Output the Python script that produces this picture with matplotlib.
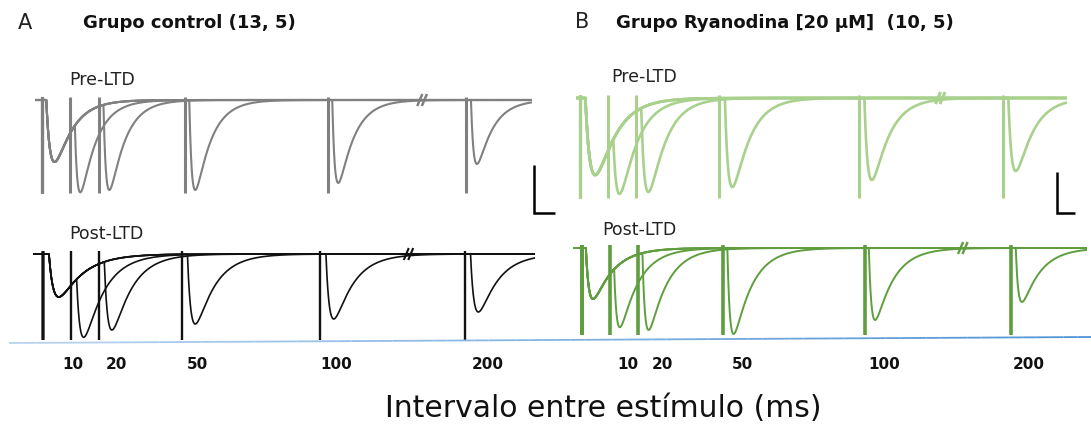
import numpy as np
import matplotlib
matplotlib.use("Agg")
import matplotlib.pyplot as plt
from matplotlib import transforms
from matplotlib.collections import LineCollection

plt.rcParams['font.family'] = ['DejaVu Sans']

W, H = 1091, 425

# ---------------- data ----------------
intervals_ms = [10, 20, 50, 100, 200]
tick_labels = ["10", "20", "50", "100", "200"]

# peak depth (baseline to peak, arbitrary units) of 1st response and of 2nd response per interval
ctrl_pre_first = 62
ctrl_pre_second = [92, 90, 90, 83, 64]
ctrl_post_first = 43
ctrl_post_second = [83, 76, 70, 65, 58]
rya_pre_first = 77
rya_pre_second = [95, 94, 89, 82, 73]
rya_post_first = 51
rya_post_second = [79, 82, 86, 72, 54]

# stimulus artifact depth
ctrl_pre_artifact = 93
ctrl_post_artifact = 86
rya_pre_artifact = 100
rya_post_artifact = 87

# kinetics: latency, rise tau, decay tau (ms) — first response / second response
ctrl_pre_kin1 = (1.6, 1.6, 6.0)
ctrl_pre_kin2 = (1.6, 1.0, 5.5)
ctrl_post_kin1 = (2.0, 1.8, 8.5)
ctrl_post_kin2 = (2.0, 1.4, 7.0)
rya_pre_kin1 = (2.0, 2.0, 7.0)
rya_pre_kin2 = (2.0, 1.4, 6.0)
rya_post_kin1 = (1.5, 1.2, 7.0)
rya_post_kin2 = (1.5, 1.0, 6.5)

# scale bars (amplitude units, ms)
ctrl_bar = (48, 7.3)
rya_bar = (41, 6.6)

# ---------------- layout ----------------
# stim0 px, px per ms, start ms, end ms, break ms, gap ms, baseline px
lay = {
    'ctrl_pre':  dict(s0=41.7, k=2.86, start=-2.3, end=171.4, brk=133.0, gap=51.5, base=100),
    'ctrl_post': dict(s0=43.4, k=2.77, start=-3.7, end=177.6, brk=131.8, gap=47.8, base=254),
    'rya_pre':   dict(s0=579.8, k=2.79, start=-1.3, end=174.7, brk=129.2, gap=48.4, base=98),
    'rya_post':  dict(s0=581.6, k=2.83, start=-3.1, end=178.7, brk=134.7, gap=48.1, base=248),
}

fig = plt.figure(figsize=(W / 100, H / 100), dpi=100)


def kernel(t, lat, tr, td):
    s = np.clip(t - lat, 0, None)
    tp = tr * td / (td - tr) * np.log(td / tr)
    norm = np.exp(-tp / td) - np.exp(-tp / tr)
    return (np.exp(-s / td) - np.exp(-s / tr)) / norm, tp + lat


def make_ax(L, depth):
    ylo, yhi = depth + 4, 10
    left = L['s0'] + L['start'] * L['k']
    width = (L['end'] - L['start']) * L['k']
    top = L['base'] - yhi
    height = ylo + yhi
    ax = fig.add_axes([left / W, 1 - (top + height) / H, width / W, height / H])
    ax.set_xlim(L['start'], L['end'])
    ax.set_ylim(-ylo, yhi)
    ax.axis('off')
    return ax


def draw_trace(name, first, second, art, kin1, kin2, color, lw, alw):
    L = lay[name]
    ax = make_ax(L, art)
    t = np.linspace(L['start'], L['end'], 6000)
    k1, _ = kernel(t, *kin1)
    for iv, amp2 in zip(intervals_ms, second):
        d = iv if iv < L['brk'] else iv - L['gap']
        _, tpk = kernel(np.array([0.0]), *kin2)
        resid = first * kernel(np.array([d + tpk]), *kin1)[0][0]
        a2 = amp2 - resid
        k2, _ = kernel(t - d, *kin2)
        y = -(first * k1 + a2 * k2)
        ax.plot(t, y, color=color, lw=lw, solid_capstyle='butt', zorder=2)
        ax.vlines([0, d], -art, 3, color=color, lw=alw, zorder=3)
    # break marks
    for off in (-0.8, 0.8):
        b = L['brk'] + off
        ax.plot([b - 0.9, b + 0.9], [-6, 6], color=color, lw=lw + 0.3, zorder=4,
                solid_capstyle='butt')
    return ax


ax_cpre = draw_trace('ctrl_pre', ctrl_pre_first, ctrl_pre_second, ctrl_pre_artifact,
                     ctrl_pre_kin1, ctrl_pre_kin2, '#808080', 1.5, 2.2)
ax_cpost = draw_trace('ctrl_post', ctrl_post_first, ctrl_post_second, ctrl_post_artifact,
                      ctrl_post_kin1, ctrl_post_kin2, '#111111', 1.2, 1.7)
ax_rpre = draw_trace('rya_pre', rya_pre_first, rya_pre_second, rya_pre_artifact,
                     rya_pre_kin1, rya_pre_kin2, '#a9d18e', 1.9, 2.2)
ax_rpost = draw_trace('rya_post', rya_post_first, rya_post_second, rya_post_artifact,
                      rya_post_kin1, rya_post_kin2, '#5f9e3f', 1.4, 2.6)

# scale bars
def scale_bar(ax, L, x_px, bottom_px, bar):
    amp, ms = bar
    x0 = (x_px - L['s0']) / L['k']
    y0 = L['base'] - bottom_px
    ax.plot([x0, x0, x0 + ms], [y0 + amp, y0, y0], color='k', lw=1.8,
            solid_joinstyle='miter', solid_capstyle='butt', clip_on=False)

scale_bar(ax_cpre, lay['ctrl_pre'], 534, 213, ctrl_bar)
scale_bar(ax_rpre, lay['rya_pre'], 1056.7, 213, rya_bar)

# tick labels
tick_pos_ctrl = [10.7, 26.4, 55.5, 105.6, 160.3]
tick_pos_rya = [16.2, 28.5, 56.8, 107.0, 158.0]
for ax, pos in ((ax_cpost, tick_pos_ctrl), (ax_rpost, tick_pos_rya)):
    tr_ = transforms.blended_transform_factory(ax.transData, fig.transFigure)
    for p, lab in zip(pos, tick_labels):
        ax.text(p, 1 - 368.7 / H, lab, transform=tr_, ha='center', va='baseline',
                fontsize=11, fontweight='bold', color='#111111', clip_on=False)


def ftext(x, y, s, **kw):
    fig.text(x / W, 1 - y / H, s, va='baseline', **kw)

ftext(17.4, 29, "A", fontsize=15, color='#222222')
ftext(83.4, 28.5, "Grupo control (13, 5)", fontsize=13, fontweight='bold', color='#111111')
ftext(574.6, 28.5, "B", fontsize=15, color='#222222')
ftext(616.4, 28.5, "Grupo Ryanodina [20 μM]  (10, 5)", fontsize=13, fontweight='bold',
      color='#111111')
ftext(68.8, 85, "Pre-LTD", fontsize=12.5, color='#222222')
ftext(69.5, 239, "Post-LTD", fontsize=12.5, color='#222222')
ftext(611.2, 81.7, "Pre-LTD", fontsize=12.5, color='#222222')
ftext(602.5, 235.3, "Post-LTD", fontsize=12.5, color='#222222')
ftext(603, 417, "Intervalo entre estímulo (ms)", fontsize=21.5, ha='center', color='#111111')

# thin blue baseline rule
xs = np.linspace(9, 1091, 80)
ys = 343 + (337 - 343) * (xs - 9) / (1091 - 9)
pts = np.column_stack([xs / W, 1 - ys / H])
segs = np.stack([pts[:-1], pts[1:]], axis=1)
c0 = np.array(matplotlib.colors.to_rgb('#b9d3ee'))
c1 = np.array(matplotlib.colors.to_rgb('#4f93d6'))
fr = np.linspace(0, 1, len(segs))[:, None]
cols = c0 * (1 - fr) + c1 * fr
lc = LineCollection(segs, colors=cols, linewidths=1.3, transform=fig.transFigure)
fig.add_artist(lc)

fig.savefig("out.png", dpi=100)
